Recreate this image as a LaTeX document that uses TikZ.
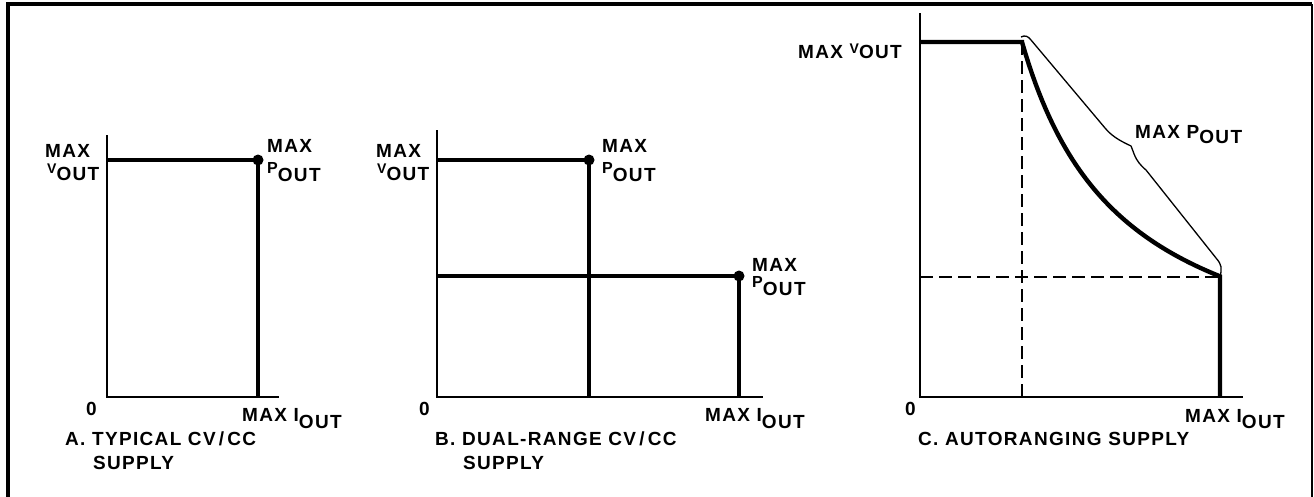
\documentclass[tikz,border=0pt]{standalone}
\usepackage{fontspec}
\setmainfont{Liberation Sans}[LetterSpace=7]
\usepackage{tikz}

\newcommand\outlbl[3]{\raisebox{#2}{\fontsize{#1}{#1}\selectfont #3}OUT}

\begin{document}
\begin{tikzpicture}[x=1pt, y=-1pt,
    frame/.style={line width=4pt},
    axis/.style={line width=2.4pt},
    curve/.style={line width=4.4pt},
    limit/.style={line width=1.3pt, line join=round},
    guide/.style={line width=1.5pt, dash pattern=on 13pt off 6pt},
    lbl/.style={anchor=base west, inner sep=0pt, font=\fontsize{19}{21}\selectfont\bfseries}]
    \useasboundingbox (0, 0) rectangle (1314, 496);
    \path (8, 500) coordinate (fbl) (8, 4) coordinate (ftl) (1312, 4) coordinate (ftr) (1312, 500) coordinate (fbr);
    \draw [frame] (fbl) -- (ftl) -- (ftr);
    \draw [line width=2pt] (ftr) -- (fbr);

    \path (107, 397) coordinate (ao) (107, 135) coordinate (atop) (279, 397) coordinate (aend);
    \path (107, 160) coordinate (av) (258, 160) coordinate (ap) (258, 397) coordinate (ai);
    \draw [axis] (atop) -- (ao) -- (aend);
    \draw [curve] (av) -- (ap) -- (ai);
    \fill (ap) circle (5.5pt);
    \path (45, 157) node [lbl] (avmax) {MAX};
    \path (47, 180) node [lbl] (avout) {\outlbl{14}{7pt}{V}};
    \path (267, 152) node [lbl] (apmax) {MAX};
    \path (267, 181) node [lbl] (apout) {\outlbl{16}{8pt}{P}};
    \path (86, 415) node [lbl] (azero) {0};
    \path (242, 428) node [lbl] (aiout) {\outlbl{19}{7pt}{MAX I}};
    \path (65, 445) node [lbl] (acap) {A. TYPICAL CV\,/\,CC};
    \path (93, 469) node [lbl] (acap2) {SUPPLY};

    \path (437, 397) coordinate (bo) (437, 130) coordinate (btop) (763, 397) coordinate (bend);
    \path (437, 160) coordinate (bv1) (589, 160) coordinate (bp1) (589, 397) coordinate (bi1);
    \path (437, 276) coordinate (bv2) (739, 276) coordinate (bp2) (739, 397) coordinate (bi2);
    \draw [axis] (btop) -- (bo) -- (bend);
    \draw [curve] (bv1) -- (bp1) -- (bi1);
    \draw [curve] (bv2) -- (bp2) -- (bi2);
    \fill (bp1) circle (5.5pt) (bp2) circle (5.5pt);
    \path (376, 157) node [lbl] (bvmax) {MAX};
    \path (377, 180) node [lbl] (bvout) {\outlbl{14}{7pt}{V}};
    \path (602, 152) node [lbl] (bpmax1) {MAX};
    \path (602, 181) node [lbl] (bpout1) {\outlbl{16}{8pt}{P}};
    \path (752, 271) node [lbl] (bpmax2) {MAX};
    \path (752, 295) node [lbl] (bpout2) {\outlbl{16}{8pt}{P}};
    \path (419, 415) node [lbl] (bzero) {0};
    \path (705, 428) node [lbl] (biout) {\outlbl{19}{7pt}{MAX I}};
    \path (435, 445) node [lbl] (bcap) {B. DUAL-RANGE CV\,/\,CC};
    \path (463, 469) node [lbl] (bcap2) {SUPPLY};

    \path (920, 397) coordinate (co) (920, 13) coordinate (ctop) (1243, 397) coordinate (cend);
    \path (920, 42) coordinate (cv) (1022, 42) coordinate (ck) (1022, 397) coordinate (ckb);
    \path (920, 277) coordinate (ch) (1220, 277) coordinate (cp) (1220, 397) coordinate (ci);
    \draw [axis] (ctop) -- (co) -- (cend);
    \draw [guide] (ck) -- (ckb);
    \draw [guide] (ch) -- (cp);
    \draw [curve] (cv) -- (ck) -- plot [domain=1.02:3, samples=60] ({920+100*\x}, {397-362/\x}) -- (ci);
    \draw [limit] (1021, 37) .. controls (1025, 35) and (1028, 36) .. (1031, 40) -- (1105, 128)
        .. controls (1113, 138) and (1125, 143) .. (1131, 146)
        .. controls (1134, 152) and (1134, 160) .. (1146, 170) -- (1216, 258)
        .. controls (1222, 265) and (1222, 268) .. (cp);
    \path (798, 58) node [lbl] (cvout) {MAX \outlbl{14}{5pt}{V}};
    \path (1135, 143) node [lbl] (cpout) {\outlbl{19}{5pt}{MAX P}};
    \path (905, 415) node [lbl] (czero) {0};
    \path (1185, 428) node [lbl] (ciout) {\outlbl{19}{6pt}{MAX I}};
    \path (918, 445) node [lbl] (ccap) {C. AUTORANGING SUPPLY};
\end{tikzpicture}
\end{document}
